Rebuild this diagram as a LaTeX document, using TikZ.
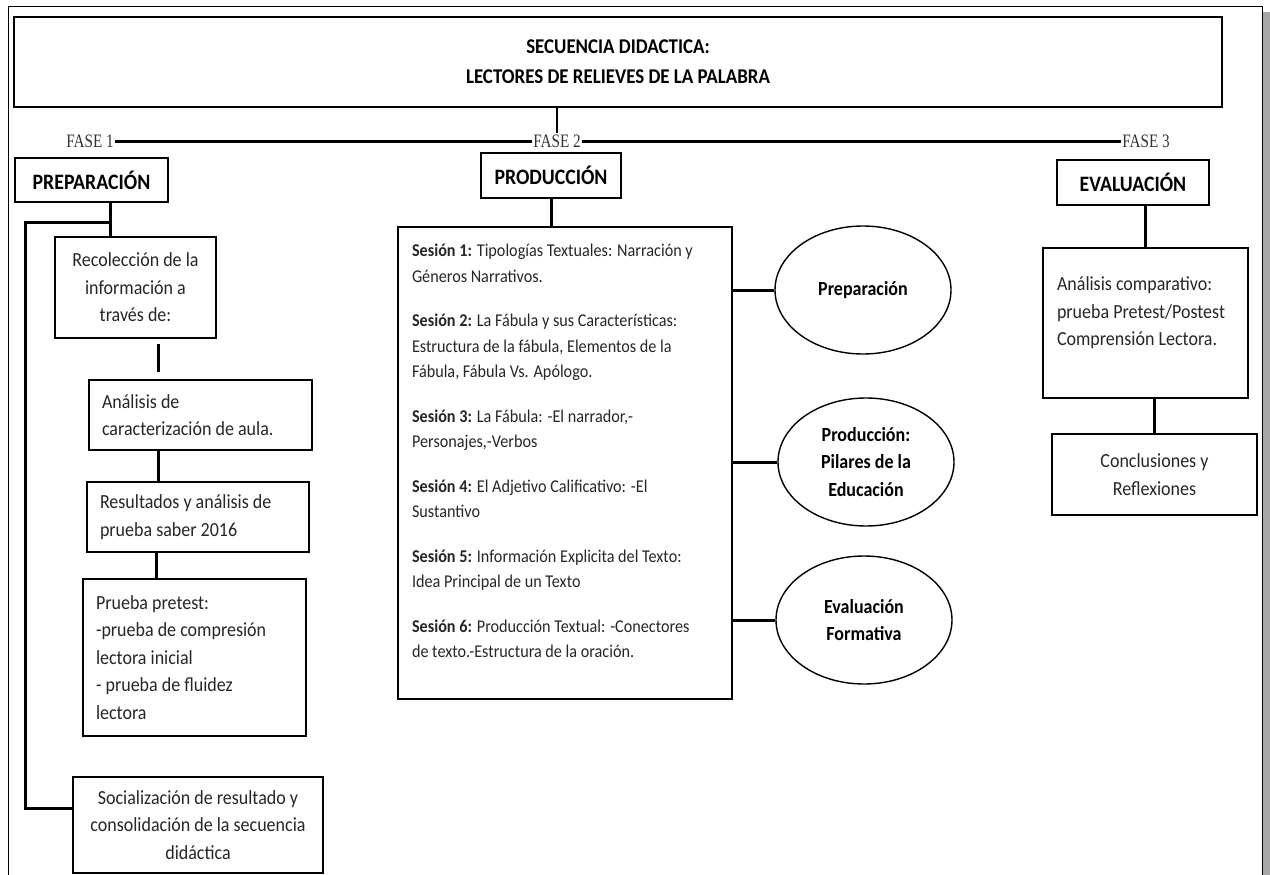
\documentclass[tikz,border=0pt]{standalone}
\usepackage{fontspec}
\setmainfont{Carlito}[FakeStretch=0.9]
\newfontfamily\fasefont{Liberation Serif}[FakeStretch=0.8]
\usetikzlibrary{shapes.geometric}

\begin{document}
\begin{tikzpicture}[x=1pt, y=-1pt,
    blk/.style  = {draw, line width=1.8pt, inner sep=0pt, text=black!85, font=\fontsize{20}{27.5}\selectfont},
    head/.style = {draw, line width=1.8pt, inner sep=0pt, font=\bfseries\fontsize{22}{28}\selectfont},
    bub/.style  = {draw, ellipse, line width=1.4pt, minimum width=176pt, minimum height=128pt, align=center, font=\bfseries\fontsize{20}{27.5}\selectfont},
    fase/.style = {font=\fasefont\fontsize{19}{20}\selectfont, inner sep=1.5pt, text=black!80},
    lnk/.style  = {line width=3pt}]
    \useasboundingbox (0,0) rectangle (1270,875);
    % page frame
    \fill[black!35] (1263,12) rectangle (1270,875);
    \draw[line width=1pt] (8,880) -- (8,7) -- (1262,7) -- (1262,880);
    %
    \node[head, minimum width=1208pt, minimum height=90pt, align=center, font=\bfseries\fontsize{21}{30}\selectfont] (titulo) at (618,62) {SECUENCIA DIDACTICA:\\LECTORES DE RELIEVES DE LA PALABRA};
    \node[fase] (fase1) at (90,141) {FASE 1};
    \node[fase] (fase2) at (557,141) {FASE 2};
    \node[fase] (fase3) at (1146,141) {FASE 3};
    \draw[line width=2pt] (titulo.south -| fase2.north) -- (fase2.north);
    \draw[lnk] (fase1) -- (fase2) -- (fase3);
    %
    \node[head, minimum width=153pt, minimum height=44pt] (prep) at (91.5,180) {PREPARACIÓN};
    \node[head, minimum width=140pt, minimum height=45pt] (prod) at (551,175.5) {PRODUCCIÓN};
    \node[head, minimum width=152pt, minimum height=45pt] (eval) at (1133,182.5) {EVALUACIÓN};
    % left column
    \node[blk, minimum width=161pt, minimum height=101pt, align=center] (recol) at (135.5,287.5) {Recolección de la\\información a\\través de:};
    \node[blk, inner xsep=13pt, minimum height=70pt] (caract) at (200.5,415) {\parbox{197pt}{\raggedright Análisis de\\caracterización de aula.}};
    \node[blk, inner xsep=13pt, minimum height=70pt] (saber) at (198,517) {\parbox{196pt}{\raggedright Resultados y análisis de\\prueba saber 2016}};
    \node[blk, inner xsep=13pt, minimum height=157pt] (pretest) at (194.5,657.5) {\parbox{197pt}{\raggedright Prueba pretest:\\-prueba de compresión\\lectora inicial\\- prueba de fluidez\\lectora}};
    \node[blk, minimum width=250pt, minimum height=96pt, align=center] (social) at (198,825) {Socialización de resultado y\\consolidación de la secuencia\\didáctica};
    \coordinate (bus) at (110,222);
    \coordinate (busL) at (25,222);
    \draw[lnk] (prep.south -| bus) -- (recol.north -| bus);
    \draw[lnk] (bus) -- (busL) |- ([yshift=17pt]social.west);
    \draw[lnk, shorten <=5pt, shorten >=7pt] (recol.south -| 158,0) -- (caract.north -| 158,0);
    \draw[lnk] (caract.south -| 158,0) -- (saber.north -| 158,0);
    \draw[lnk] (saber.south -| 156,0) -- (pretest.north -| 156,0);
    % middle column
    \node[blk, inner xsep=14pt, inner ysep=0pt, font=\fontsize{18}{25.5}\selectfont] (sesiones) at (565,463) {\parbox[c][472pt][t]{306pt}{\raggedright\vspace*{17pt}%
      \textbf{Sesión 1:} Tipologías Textuales: Narración y\\Géneros Narrativos.\\[19pt]
      \textbf{Sesión 2:} La Fábula y sus Características:\\Estructura de la fábula, Elementos de la\\Fábula, Fábula Vs. Apólogo.\\[19pt]
      \textbf{Sesión 3:} La Fábula: -El narrador,-\\Personajes,-Verbos\\[19pt]
      \textbf{Sesión 4:} El Adjetivo Calificativo: -El\\Sustantivo\\[19pt]
      \textbf{Sesión 5:} Información Explicita del Texto:\\Idea Principal de un Texto\\[19pt]
      \textbf{Sesión 6:} Producción Textual: -Conectores\\de texto.-Estructura de la oración.}};
    \draw[lnk] (prod) -- (prod |- sesiones.north);
    \node[bub] (bub1) at (863,290) {Preparación};
    \node[bub] (bub2) at (866,462) {Producción:\\Pilares de la\\Educación};
    \node[bub] (bub3) at (864,620) {Evaluación\\Formativa};
    \draw[lnk] (sesiones.east |- bub1.west) -- (bub1.west);
    \draw[lnk] (sesiones.east |- bub2.west) -- (bub2.west);
    \draw[lnk] (sesiones.east |- bub3.west) -- (bub3.west);
    % right column
    \node[blk, inner xsep=14pt, inner ysep=0pt] (compara) at (1145.5,323) {\parbox[c][150pt][t]{177pt}{\raggedright\vspace*{29pt}%
      Análisis comparativo:\\prueba Pretest/Postest\\Comprensión Lectora.}};
    \node[blk, minimum width=205pt, minimum height=81pt, align=center] (concl) at (1154.5,474.5) {Conclusiones y\\Reflexiones};
    \draw[lnk] (eval.south -| compara.north) -- (compara.north);
    \draw[lnk] (concl.north |- compara.south) -- (concl.north);
\end{tikzpicture}
\end{document}
